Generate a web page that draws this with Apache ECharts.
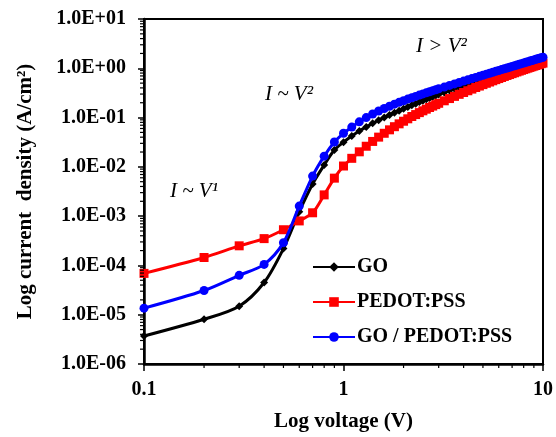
<!DOCTYPE html>
<html><head><meta charset="utf-8">
<script src="https://cdn.jsdelivr.net/npm/echarts@6/dist/echarts.min.js"></script>
<style>html,body{margin:0;padding:0;background:#fff}#c{width:556px;height:437px}</style>
</head><body><div id="c"></div>
<script>
// Voltage (V)
const voltage = [0.1,0.2,0.3,0.4,0.5,0.6,0.7,0.8,0.9,1.0,
  1.1,1.2,1.3,1.4,1.5,1.6,1.7,1.8,1.9,2.0,2.1,2.2,2.3,2.4,2.5,2.6,2.7,2.8,2.9,3.0,
  3.2,3.4,3.6,3.8,4.0,4.2,4.4,4.6,4.8,5.0,5.2,5.4,5.6,5.8,6.0,6.2,6.4,6.6,6.8,7.0,
  7.2,7.4,7.6,7.8,8.0,8.2,8.4,8.6,8.8,9.0,9.2,9.4,9.6,9.8,10];
// Current density (A/cm2)
const goData = [3.7e-6,8.1e-6,1.49e-5,4.5e-5,2.2e-4,1.23e-3,4.5e-3,1.09e-2,2.2e-2,0.0316,
  0.0421,0.0532,0.0647,0.0764,0.0883,0.100,0.113,0.125,0.138,0.151,0.164,0.177,0.191,0.206,0.220,0.234,0.249,0.264,0.279,0.294,
  0.324,0.354,0.385,0.416,0.448,0.480,0.513,0.545,0.578,0.612,0.646,0.680,0.714,0.748,0.783,0.817,0.853,0.888,0.923,0.957,
  0.993,1.028,1.064,1.099,1.135,1.170,1.206,1.242,1.277,1.313,1.349,1.384,1.420,1.456,1.492];
const pedotData = [6.9e-5,1.45e-4,2.5e-4,3.5e-4,5.3e-4,8.0e-4,1.17e-3,2.7e-3,5.9e-3,0.0104,
  0.0149,0.0202,0.0262,0.0328,0.0401,0.048,0.0564,0.0653,0.0746,0.0843,0.0944,0.105,0.115,0.126,0.137,0.148,0.160,0.171,0.183,0.195,
  0.219,0.243,0.269,0.296,0.323,0.350,0.378,0.407,0.436,0.466,0.496,0.526,0.557,0.588,0.619,0.651,0.683,0.715,0.746,0.779,
  0.811,0.844,0.877,0.910,0.942,0.975,1.008,1.041,1.074,1.107,1.140,1.173,1.207,1.240,1.273];
const goPedotData = [1.36e-5,3.1e-5,6.3e-5,1.05e-4,2.9e-4,1.6e-3,6.5e-3,1.65e-2,3.2e-2,0.048,
  0.064,0.082,0.100,0.118,0.136,0.153,0.170,0.187,0.204,0.220,0.237,0.253,0.269,0.286,0.302,0.318,0.335,0.352,0.367,0.384,
  0.416,0.449,0.482,0.515,0.549,0.583,0.618,0.652,0.687,0.723,0.759,0.794,0.830,0.867,0.904,0.940,0.977,1.014,1.052,1.090,
  1.128,1.166,1.204,1.243,1.282,1.320,1.359,1.399,1.438,1.478,1.517,1.556,1.596,1.636,1.677];
const seriesNames = ['GO','PEDOT:PSS','GO / PEDOT:PSS'];
const xTickLabels = {0.1:'0.1', 1:'1', 10:'10'};
const minorMantissas = [2,3,4,5,6,7,8,9];
const xDecades = [0.1, 1];
const yDecades = [1e-6,1e-5,1e-4,1e-3,1e-2,1e-1,1];
const annotations = [
  {text:'I ~ V\u00B9', left:170, top:181},
  {text:'I ~ V\u00B2', left:265, top:84},
  {text:'I > V\u00B2', left:416, top:36}
];

const serif = "'Liberation Serif','Times New Roman',serif";
const xMinor = [], yMinor = [];
xDecades.forEach(d => minorMantissas.forEach(m => xMinor.push(+(m*d).toPrecision(3))));
yDecades.forEach(d => minorMantissas.forEach(m => yMinor.push(+(m*d).toPrecision(3))));

function yFmt(v){
  const e = Math.round(Math.log10(v));
  const s = e < 0 ? '-' : '+';
  const a = Math.abs(e);
  return '1.0E' + s + (a < 10 ? '0' + a : a);
}

const chart = echarts.init(document.getElementById('c'), null, {renderer:'canvas'});
const pair = arr => voltage.map((v,i)=>[v, arr[i]]);
chart.setOption({
  animation:false,
  backgroundColor:'#fff',
  grid:{left:144, right:12, top:19, bottom:71, show:true, borderColor:'#000', borderWidth:2, backgroundColor:'transparent'},
  xAxis:{
    type:'log', logBase:10, min:0.1, max:10,
    name:'Log voltage (V)', nameLocation:'middle', nameGap:47,
    nameTextStyle:{fontFamily:serif, fontWeight:'bold', fontSize:21, color:'#000'},
    axisLine:{lineStyle:{color:'#000', width:2.5}},
    axisTick:{show:true, inside:false, length:7, lineStyle:{color:'#000', width:1.5}},
    axisLabel:{formatter:v=>xTickLabels[v] !== undefined ? xTickLabels[v] : String(v), fontFamily:serif, fontWeight:'bold', fontSize:20, color:'#000', margin:16},
    splitLine:{show:false}
  },
  yAxis:{
    type:'log', logBase:10, min:1e-6, max:10,
    name:'Log current  density (A/cm\u00B2)', nameLocation:'middle', nameGap:108, nameRotate:90,
    nameTextStyle:{fontFamily:serif, fontWeight:'bold', fontSize:21, color:'#000'},
    axisLine:{lineStyle:{color:'#000', width:2.5}},
    axisTick:{show:true, inside:false, length:6, lineStyle:{color:'#000', width:1.5}},
    axisLabel:{formatter:yFmt, fontFamily:serif, fontWeight:'bold', fontSize:20, color:'#000', margin:18},
    splitLine:{show:false}
  },
  legend:{
    data:seriesNames, orient:'vertical', left:312, top:257, itemGap:15,
    itemWidth:42, itemHeight:12, padding:0,
    textStyle:{fontFamily:serif, fontWeight:'bold', fontSize:20, color:'#000', lineHeight:20, padding:[0,0,0,-3]}
  },
  graphic: annotations.map(a=>({
    type:'text', left:a.left, top:a.top, silent:true,
    style:{text:a.text, font:"italic 21px 'Liberation Serif','Times New Roman',serif", fill:'#000'}
  })),
  series:[
    {name:seriesNames[0], type:'line', data:pair(goData), smooth:0.3, symbol:'diamond', symbolSize:8,
     lineStyle:{color:'#000', width:3}, itemStyle:{color:'#000'}, z:2},
    {name:seriesNames[1], type:'line', data:pair(pedotData), smooth:0.3, symbol:'rect', symbolSize:9,
     lineStyle:{color:'#ff0000', width:3}, itemStyle:{color:'#ff0000'}, z:3},
    {name:seriesNames[2], type:'line', data:pair(goPedotData), smooth:0.3, symbol:'circle', symbolSize:9,
     lineStyle:{color:'#0000ff', width:3}, itemStyle:{color:'#0000ff'}, z:4},
    {type:'custom', silent:true, clip:false, z:5, data:xMinor.map(v=>[v,1e-6]),
     renderItem:(p,api)=>{const c=api.coord([api.value(0),api.value(1)]);
       return {type:'line', shape:{x1:c[0],y1:c[1],x2:c[0],y2:c[1]+4}, style:{stroke:'#000',lineWidth:1.2}};}},
    {type:'custom', silent:true, clip:false, z:5, data:yMinor.map(v=>[0.1,v]),
     renderItem:(p,api)=>{const c=api.coord([api.value(0),api.value(1)]);
       return {type:'line', shape:{x1:c[0]-4,y1:c[1],x2:c[0],y2:c[1]}, style:{stroke:'#000',lineWidth:1.2}};}}
  ]
});
</script></body></html>
